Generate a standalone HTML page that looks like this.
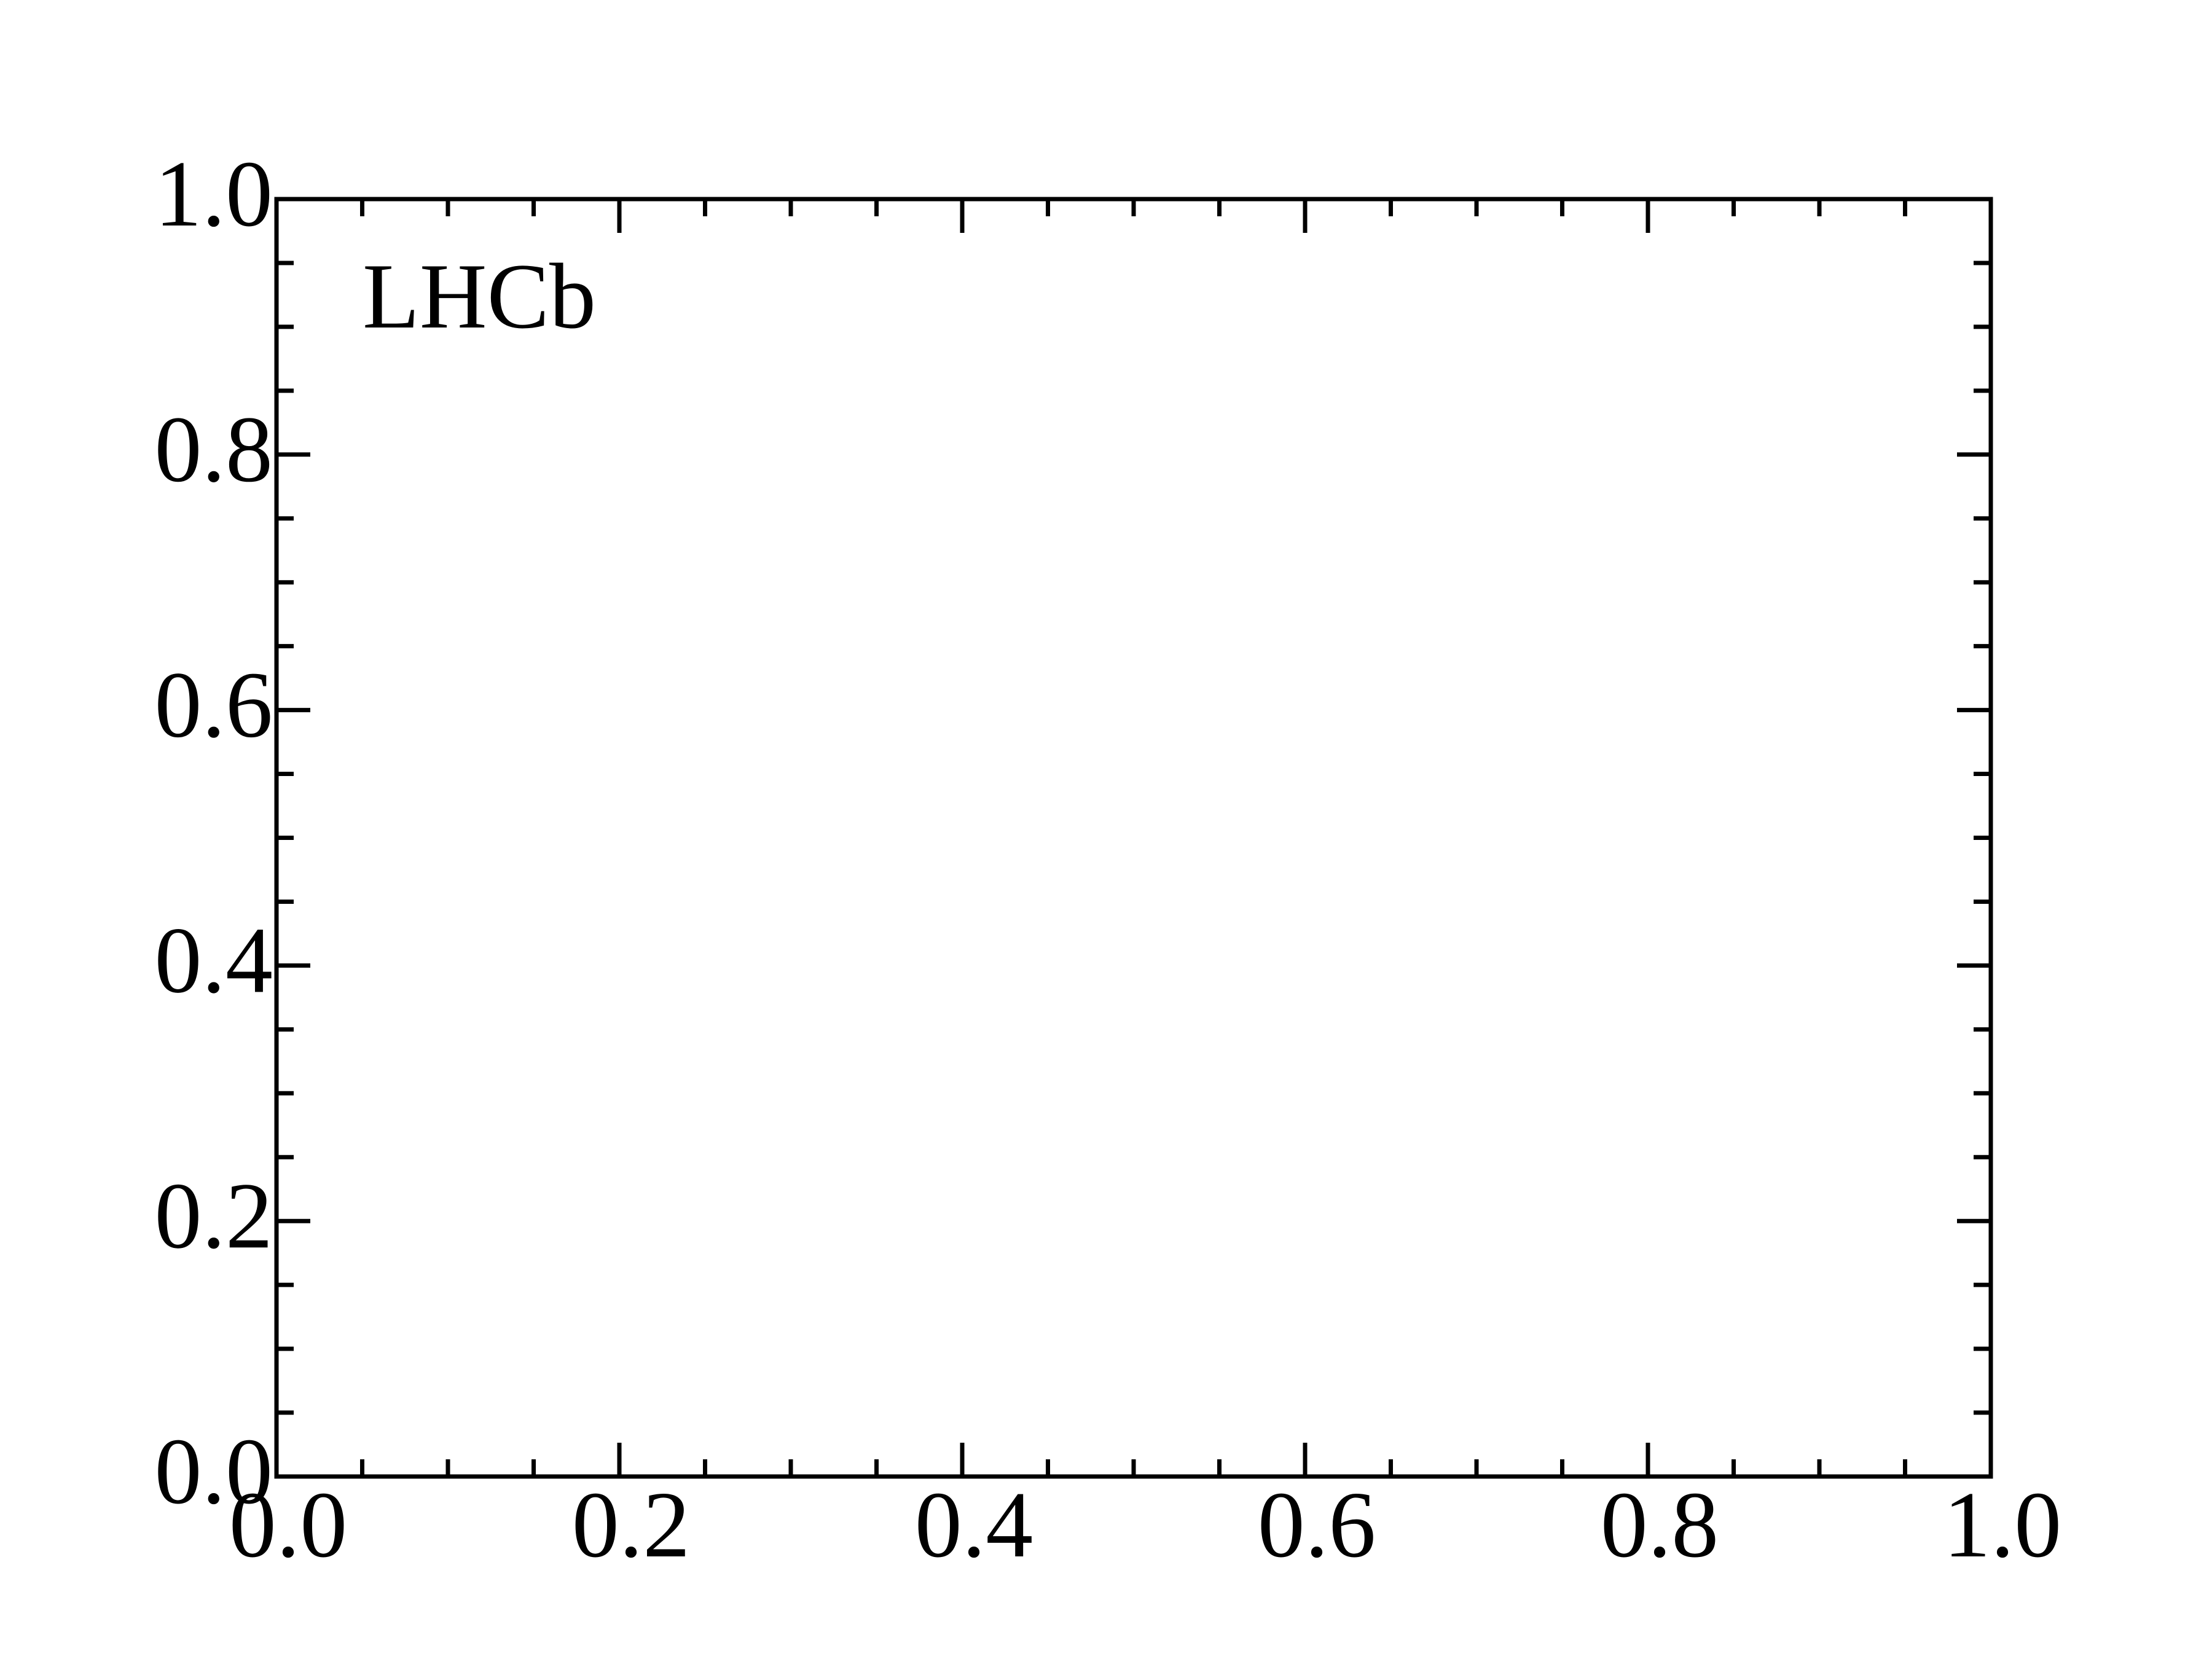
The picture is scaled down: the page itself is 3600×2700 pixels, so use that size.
<!DOCTYPE html>
<html><head><meta charset="utf-8"><style>
html,body{margin:0;padding:0;background:#fff;}
svg{display:block;}
text{font-family:"Liberation Serif",serif;fill:#000;}
</style></head><body>
<svg id="chart" width="3600" height="2700" viewBox="0 0 3600 2700" xmlns="http://www.w3.org/2000/svg">
<rect x="0" y="0" width="3600" height="2700" fill="#fff"/>
<g id="ticks"></g>
<g id="labels"></g>
<rect x="450" y="324" width="2790" height="2079" fill="none" stroke="#000" stroke-width="7"/>
<text x="590" y="533" font-size="152">LHCb</text>
</svg>
<script>
const xTicks = [0.0, 0.2, 0.4, 0.6, 0.8, 1.0];
const xTickLabels = ["0.0", "0.2", "0.4", "0.6", "0.8", "1.0"];
const yTicks = [0.0, 0.2, 0.4, 0.6, 0.8, 1.0];
const yTickLabels = ["0.0", "0.2", "0.4", "0.6", "0.8", "1.0"];
const minorStep = 0.05;

const L=450,R=3240,T=324,B=2403;
const sx=v=>L+(R-L)*v;
const sy=v=>B-(B-T)*v;
const NS="http://www.w3.org/2000/svg";
const tg=document.getElementById('ticks');
const lg=document.getElementById('labels');
function line(x1,y1,x2,y2,name){
  const l=document.createElementNS(NS,'line');
  l.setAttribute('x1',x1);l.setAttribute('y1',y1);l.setAttribute('x2',x2);l.setAttribute('y2',y2);
  l.setAttribute('stroke','#000');l.setAttribute('stroke-width','7');
  
  
  tg.appendChild(l);
}
const MAJ=55,MIN=28;
for(let i=0;i<=20;i++){
  const v=i*minorStep;
  const major=(i%4===0);
  const len=major?MAJ:MIN;
  const x=sx(v), y=sy(v);
  line(x,B,x,B-len,major?'x-major-tick':'x-minor-tick');
  line(x,T,x,T+len,major?'x-major-tick-top':'x-minor-tick-top');
  line(L,y,L+len,y,major?'y-major-tick':'y-minor-tick');
  line(R,y,R-len,y,major?'y-major-tick-right':'y-minor-tick-right');
}
xTicks.forEach((v,i)=>{
  const t=document.createElementNS(NS,'text');
  t.setAttribute('x',sx(v)+19);t.setAttribute('y',2533);
  t.setAttribute('text-anchor','middle');t.setAttribute('font-size','154');
  t.textContent=xTickLabels[i];
  
  
  lg.appendChild(t);
});
yTicks.forEach((v,i)=>{
  const t=document.createElementNS(NS,'text');
  t.setAttribute('x',444);t.setAttribute('y',sy(v)+43);
  t.setAttribute('text-anchor','end');t.setAttribute('font-size','154');
  t.textContent=yTickLabels[i];
  
  
  lg.appendChild(t);
});
</script>
</body></html>
